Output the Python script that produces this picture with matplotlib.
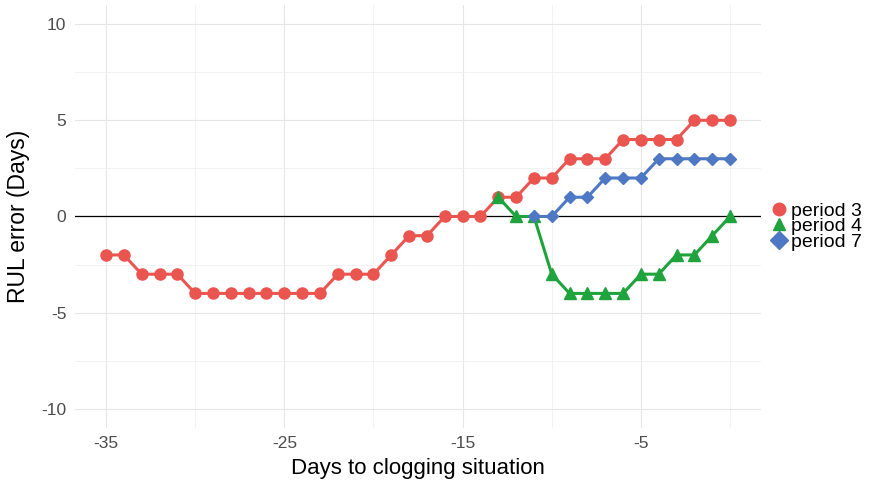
import matplotlib
matplotlib.use("Agg")
import matplotlib.pyplot as plt
from matplotlib.lines import Line2D

plt.rcParams['font.family'] = ['Liberation Sans', 'DejaVu Sans']

x3 = list(range(-35, 1))
y3 = [-2, -2, -3, -3, -3, -4, -4, -4, -4, -4, -4, -4, -4, -3, -3, -3, -2, -1, -1,
      0, 0, 0, 1, 1, 2, 2, 3, 3, 3, 4, 4, 4, 4, 5, 5, 5]
x4 = list(range(-13, 1))
y4 = [1, 0, 0, -3, -4, -4, -4, -4, -3, -3, -2, -2, -1, 0]
x7 = list(range(-11, 1))
y7 = [0, 0, 1, 1, 2, 2, 2, 3, 3, 3, 3, 3]

labels = ["period 3", "period 4", "period 7"]
colors = ["#EA5550", "#1FA33C", "#4F78C4"]
markers = ["o", "^", "D"]
msizes = [8, 9, 6]

xticks = [-35, -25, -15, -5]
yticks = [-10, -5, 0, 5, 10]

fig = plt.figure(figsize=(8.7, 4.87), dpi=100)
ax = fig.add_axes([0.086, 0.121, 0.789, 0.869])

ax.axhline(0, color="black", lw=0.9, zorder=2)
for xs, ys, c, m, ms in zip([x3, x4, x7], [y3, y4, y7], colors, markers, msizes):
    ax.plot(xs, ys, color=c, lw=2.2, marker=m, ms=ms, zorder=3)

ax.set_xlim(-36.75, 1.75)
ax.set_ylim(-11, 11)
ax.set_xticks(xticks)
ax.set_xticklabels([str(v) for v in xticks])
ax.set_yticks(yticks)
ax.set_yticklabels([str(v) for v in yticks])
ax.set_xticks([-30, -20, -10, 0], minor=True)
ax.set_yticks([-7.5, -2.5, 2.5, 7.5], minor=True)
ax.grid(True, which="major", color="#E6E6E6", lw=0.8)
ax.grid(True, which="minor", color="#F0F0F0", lw=0.6)
ax.set_axisbelow(True)
for s in ax.spines.values():
    s.set_visible(False)
ax.tick_params(which="both", length=0, labelsize=12.5, colors="#4D4D4D", pad=6)
ax.set_xlabel("Days to clogging situation", fontsize=16, labelpad=5)
ax.set_ylabel("RUL error (Days)", fontsize=16.5, labelpad=8)

handles = [Line2D([0], [0], color=c, marker=m, ms=9, lw=0) for c, m in zip(colors, markers)]
leg = fig.legend(handles, labels, loc="center left", bbox_to_anchor=(0.88, 0.535),
                 frameon=False, fontsize=14, handlelength=0.6, handletextpad=0.3,
                 labelspacing=-0.1, borderaxespad=0)
fig.savefig("out.png", dpi=100)
